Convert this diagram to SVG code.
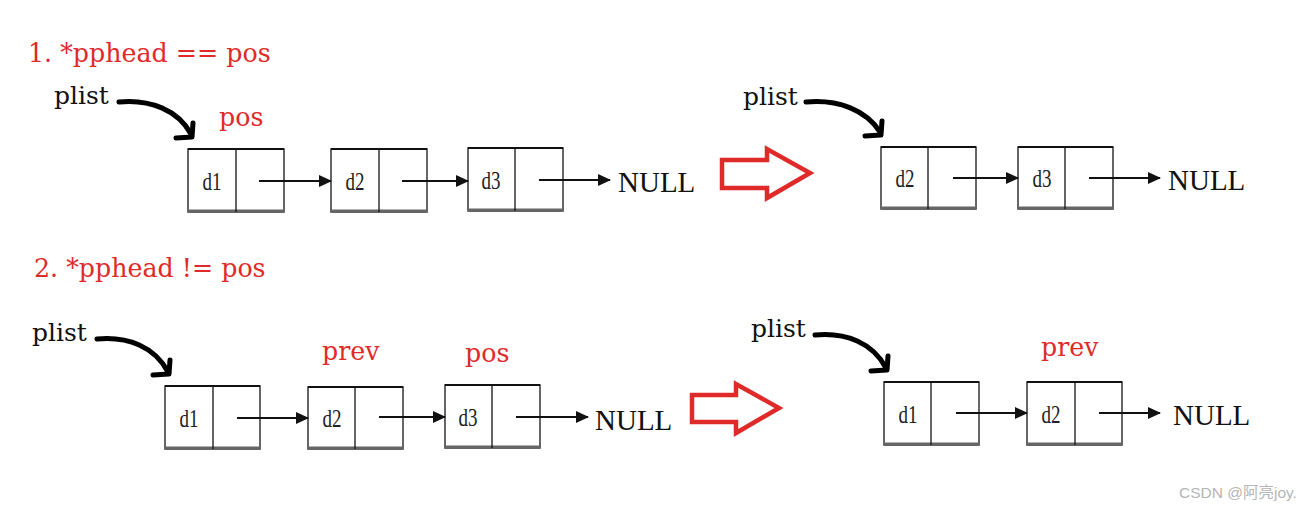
<svg xmlns="http://www.w3.org/2000/svg" width="1309" height="509" viewBox="0 0 1309 509">
<style>
.lbl{font-family:"DejaVu Serif",serif;font-size:25.3px;fill:#e02a2a}
.pl{font-family:"DejaVu Serif",serif;font-size:25px;fill:#111}
.nul{font-family:"Liberation Serif",serif;font-size:29px;fill:#111}
.dt{font-family:"Liberation Serif",serif;font-size:26px;fill:#222;text-anchor:middle}
.box{fill:#fff;stroke:#333;stroke-width:1.5}
.bot{stroke:#666;stroke-width:3}
.top{stroke:#111;stroke-width:2}
.div{stroke:#111;stroke-width:1.3}
.ln{stroke:#111;stroke-width:2.2;fill:none;marker-end:url(#ah)}
.cv{stroke:#000;stroke-width:5;fill:none;stroke-linecap:round;stroke-linejoin:round}
.big{fill:#fff;stroke:#e02a2a;stroke-width:4.5;stroke-linejoin:miter}
.wm{font-family:"Liberation Sans","Noto Sans CJK SC",sans-serif;font-size:15.5px;fill:#b5b5b5}
</style>
<defs>
<marker id="ah" markerWidth="14" markerHeight="14" refX="12" refY="6" orient="auto" markerUnits="userSpaceOnUse">
<path d="M0,0 L13,6 L0,12 Z" fill="#111"/>
</marker>
</defs>
<rect width="1309" height="509" fill="#fff"/>

<g id="titles">
<text class="lbl" x="28" y="62">1. *pphead == pos</text>
<text class="lbl" x="34" y="277">2. *pphead != pos</text>
</g>

<g id="labels">
<text class="lbl" x="219" y="126">pos</text>
<text class="lbl" x="322" y="360">prev</text>
<text class="lbl" x="465" y="362">pos</text>
<text class="lbl" x="1041" y="356">prev</text>
<text class="pl" x="54" y="104">plist</text>
<text class="pl" x="743" y="105">plist</text>
<text class="pl" x="32" y="341">plist</text>
<text class="pl" x="751" y="337">plist</text>
</g>

<g id="r1-d1"><rect class="box" x="188" y="149" width="96" height="63"/><line class="top" x1="188" y1="149" x2="284" y2="149"/><line class="bot" x1="188" y1="211" x2="284" y2="211"/><line class="div" x1="236" y1="149" x2="236" y2="212"/><text class="dt" x="212" y="190" textLength="19" lengthAdjust="spacingAndGlyphs">d1</text></g>
<g id="r1-d2"><rect class="box" x="331" y="149" width="96" height="63"/><line class="top" x1="331" y1="149" x2="427" y2="149"/><line class="bot" x1="331" y1="211" x2="427" y2="211"/><line class="div" x1="379" y1="149" x2="379" y2="212"/><text class="dt" x="355" y="190" textLength="19" lengthAdjust="spacingAndGlyphs">d2</text></g>
<g id="r1-d3"><rect class="box" x="468" y="148" width="95" height="63"/><line class="top" x1="468" y1="148" x2="563" y2="148"/><line class="bot" x1="468" y1="210" x2="563" y2="210"/><line class="div" x1="515" y1="148" x2="515" y2="211"/><text class="dt" x="491" y="189" textLength="19" lengthAdjust="spacingAndGlyphs">d3</text></g>
<g id="r1-null"><text class="nul" x="618" y="192">NULL</text></g>

<g id="r1b-d2"><rect class="box" x="881" y="147" width="95" height="62"/><line class="top" x1="881" y1="147" x2="976" y2="147"/><line class="bot" x1="881" y1="208" x2="976" y2="208"/><line class="div" x1="928" y1="147" x2="928" y2="209"/><text class="dt" x="905" y="187" textLength="19" lengthAdjust="spacingAndGlyphs">d2</text></g>
<g id="r1b-d3"><rect class="box" x="1018" y="147" width="95" height="62"/><line class="top" x1="1018" y1="147" x2="1113" y2="147"/><line class="bot" x1="1018" y1="208" x2="1113" y2="208"/><line class="div" x1="1065" y1="147" x2="1065" y2="209"/><text class="dt" x="1042" y="187" textLength="19" lengthAdjust="spacingAndGlyphs">d3</text></g>
<g id="r1b-null"><text class="nul" x="1168" y="190">NULL</text></g>

<g id="r2-d1"><rect class="box" x="165" y="386" width="95" height="63"/><line class="top" x1="165" y1="386" x2="260" y2="386"/><line class="bot" x1="165" y1="448" x2="260" y2="448"/><line class="div" x1="213" y1="386" x2="213" y2="449"/><text class="dt" x="189" y="427" textLength="19" lengthAdjust="spacingAndGlyphs">d1</text></g>
<g id="r2-d2"><rect class="box" x="308" y="387" width="95" height="62"/><line class="top" x1="308" y1="387" x2="403" y2="387"/><line class="bot" x1="308" y1="448" x2="403" y2="448"/><line class="div" x1="355" y1="387" x2="355" y2="449"/><text class="dt" x="332" y="427" textLength="19" lengthAdjust="spacingAndGlyphs">d2</text></g>
<g id="r2-d3"><rect class="box" x="445" y="385" width="95" height="63"/><line class="top" x1="445" y1="385" x2="540" y2="385"/><line class="bot" x1="445" y1="447" x2="540" y2="447"/><line class="div" x1="492" y1="385" x2="492" y2="448"/><text class="dt" x="468" y="426" textLength="19" lengthAdjust="spacingAndGlyphs">d3</text></g>
<g id="r2-null"><text class="nul" x="595" y="430">NULL</text></g>

<g id="r2b-d1"><rect class="box" x="884" y="382" width="95" height="63"/><line class="top" x1="884" y1="382" x2="979" y2="382"/><line class="bot" x1="884" y1="444" x2="979" y2="444"/><line class="div" x1="931" y1="382" x2="931" y2="445"/><text class="dt" x="908" y="423" textLength="19" lengthAdjust="spacingAndGlyphs">d1</text></g>
<g id="r2b-d2"><rect class="box" x="1027" y="382" width="95" height="63"/><line class="top" x1="1027" y1="382" x2="1122" y2="382"/><line class="bot" x1="1027" y1="444" x2="1122" y2="444"/><line class="div" x1="1075" y1="382" x2="1075" y2="445"/><text class="dt" x="1051" y="423" textLength="19" lengthAdjust="spacingAndGlyphs">d2</text></g>
<g id="r2b-null"><text class="nul" x="1173" y="425">NULL</text></g>

<g id="connectors">
<line class="ln" x1="259" y1="181" x2="331" y2="181"/>
<line class="ln" x1="402" y1="181" x2="468" y2="181"/>
<line class="ln" x1="539" y1="180" x2="610" y2="180"/>
<line class="ln" x1="953" y1="178" x2="1018" y2="178"/>
<line class="ln" x1="1089" y1="178" x2="1160" y2="178"/>
<line class="ln" x1="237" y1="418" x2="308" y2="418"/>
<line class="ln" x1="379" y1="417" x2="445" y2="417"/>
<line class="ln" x1="516" y1="417" x2="588" y2="417"/>
<line class="ln" x1="956" y1="413" x2="1027" y2="413"/>
<line class="ln" x1="1099" y1="413" x2="1160" y2="413"/>

<path class="cv" d="M119,102 C150,99 178,110 191,134"/>
<path class="cv" d="M176,138 L192,137 L193,123"/>
<path class="cv" d="M806,102 C838,99 866,110 880,132"/>
<path class="cv" d="M865,136 L881,135 L882,121"/>
<path class="cv" d="M97,339 C128,336 155,347 168,372"/>
<path class="cv" d="M153,375 L169,374 L170,360"/>
<path class="cv" d="M815,335 C846,332 873,343 886,368"/>
<path class="cv" d="M871,371 L887,370 L888,356"/>

<path class="big" d="M722,160 L767,160 L767,149 L810,173 L767,198 L767,188 L722,188 Z"/>
<path class="big" d="M692,395 L736,395 L736,384 L779,408 L736,433 L736,422 L692,422 Z"/>
</g>

<text class="wm" x="1179" y="498">CSDN @阿亮joy.</text>
</svg>
